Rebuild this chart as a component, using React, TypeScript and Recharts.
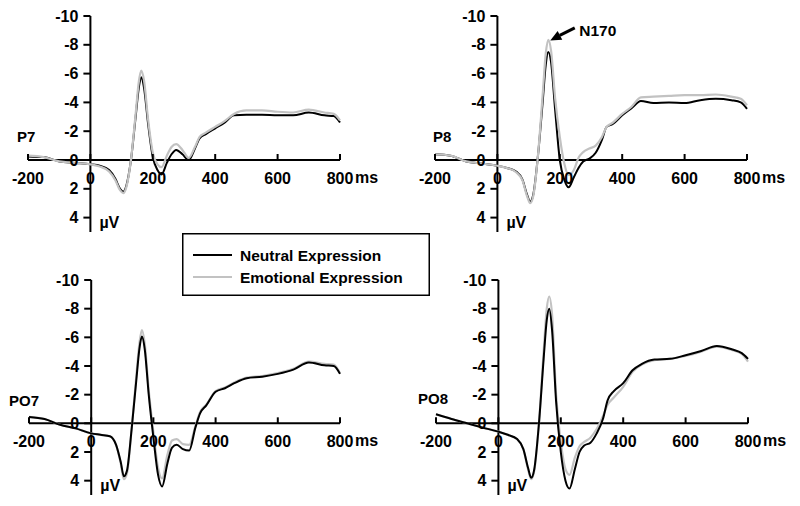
import { LineChart, Line, XAxis, YAxis, ReferenceLine, ReferenceDot, Legend } from 'recharts'

// time points (ms) shared by every panel
const timesMs = [-200, -150, -100, -50, 0, 30, 60, 80, 95, 105, 115, 130, 145, 155, 163, 172, 185, 200, 215, 228, 245, 260, 275, 295, 315, 335, 350, 370, 400, 430, 460, 500, 550, 600, 650, 700, 750, 780, 800]

const xTicks = [-200, 0, 200, 400, 600, 800]
const yTicks = [-10, -8, -6, -4, -2, 0, 2, 4]
const seriesNames = ['Neutral Expression', 'Emotional Expression']

// amplitudes in µV (negative is drawn upwards)
const p7Neutral = [-0.25, -0.2, 0.1, 0.2, 0.3, 0.4, 0.7, 1.3, 2.0, 2.2, 1.8, 0.0, -3.0, -5.0, -5.75, -5.0, -2.5, -0.2, 0.7, 1.0, 0.2, -0.4, -0.7, -0.4, 0.0, -0.8, -1.5, -1.8, -2.2, -2.6, -3.1, -3.15, -3.15, -3.1, -3.1, -3.3, -3.1, -3.05, -2.6]
const p7Emotional = [-0.3, -0.2, 0.1, 0.2, 0.3, 0.45, 0.8, 1.4, 2.1, 2.3, 1.9, 0.0, -3.2, -5.4, -6.2, -5.5, -2.8, -0.5, 0.3, 0.5, -0.3, -0.9, -1.1, -0.7, -0.15, -0.9, -1.6, -1.9, -2.3, -2.7, -3.2, -3.45, -3.45, -3.35, -3.3, -3.5, -3.3, -3.2, -2.75]

const p8Neutral = [-0.4, -0.3, 0.1, 0.25, 0.4, 0.55, 0.8, 1.35, 2.4, 2.9, 2.4, -0.3, -4.0, -6.6, -7.5, -6.8, -3.5, 0.0, 1.4, 1.9, 1.2, 0.55, 0.1, -0.1, -0.5, -1.4, -2.3, -2.5, -3.1, -3.6, -4.1, -3.95, -4.0, -3.95, -4.15, -4.25, -4.15, -4.0, -3.55]
const p8Emotional = [-0.4, -0.3, 0.1, 0.25, 0.4, 0.55, 0.85, 1.4, 2.5, 3.0, 2.5, -0.3, -4.5, -7.4, -8.35, -7.6, -4.3, -1.6, 0.3, 1.05, 0.7, -0.15, -0.55, -0.8, -1.0, -1.6, -2.3, -2.6, -3.2, -3.7, -4.35, -4.4, -4.45, -4.5, -4.5, -4.55, -4.4, -4.25, -3.8]

const po7Neutral = [-0.45, -0.3, 0.1, 0.35, 0.7, 0.8, 0.9, 1.5, 2.7, 3.7, 3.3, 0.4, -3.0, -5.2, -6.05, -5.2, -2.0, 1.0, 3.6, 4.4, 2.8, 1.7, 1.5, 1.8, 1.9, 0.3, -0.7, -1.25, -2.2, -2.45, -2.8, -3.15, -3.25, -3.45, -3.75, -4.25, -4.05, -4.0, -3.45]
const po7Emotional = [-0.45, -0.3, 0.1, 0.35, 0.7, 0.8, 0.9, 1.5, 2.8, 3.9, 3.5, 0.4, -3.3, -5.6, -6.5, -5.6, -2.3, 0.6, 3.1, 3.85, 2.2, 1.2, 1.1, 1.45, 1.5, 0.2, -0.8, -1.3, -2.25, -2.5, -2.85, -3.2, -3.3, -3.5, -3.8, -4.3, -4.15, -4.1, -3.5]

const po8Neutral = [-0.63, -0.3, 0.0, 0.3, 0.58, 0.8, 1.1, 1.8, 3.1, 3.8, 3.2, 0.0, -4.5, -7.2, -8.0, -6.5, -1.5, 2.0, 4.0, 4.55, 3.2, 2.0, 1.55, 1.35, 0.7, -0.3, -1.6, -2.25, -2.8, -3.7, -4.15, -4.45, -4.5, -4.75, -5.05, -5.4, -5.15, -4.9, -4.5]
const po8Emotional = [-0.63, -0.3, 0.0, 0.3, 0.58, 0.8, 1.1, 1.8, 3.2, 3.9, 3.3, 0.0, -5.0, -8.0, -8.85, -7.6, -2.0, 1.3, 3.2, 3.6, 2.4, 1.6, 1.3, 1.0, 0.4, -0.5, -1.3, -1.8, -2.55, -3.6, -4.1, -4.4, -4.5, -4.7, -5.0, -5.35, -5.1, -4.85, -4.3]

const FONT = '"Liberation Sans", Arial, sans-serif'
const NEUTRAL_COLOR = '#000000'
const EMOTIONAL_COLOR = '#c2c2c2'

const tickStyle = { fontFamily: FONT, fontWeight: 700, fontSize: 16, fill: '#000' }
const nameStyle = { ...tickStyle, fontSize: 15 }
const legendStyle = { ...tickStyle, fontSize: 15.5 }

function LegendBox({ payload }: any) {
  const items = [...(payload || [])].sort(
    (a: any, b: any) => seriesNames.indexOf(a.value) - seriesNames.indexOf(b.value)
  )
  return (
    <svg width={248} height={63} style={{ display: 'block' }}>
      <rect x={0.75} y={0.75} width={246.5} height={61.5} fill="#fff" stroke="#000" strokeWidth={1.5} />
      {items.map((item: any, i: number) => (
        <g key={item.value}>
          <line x1={11} x2={50} y1={22 + i * 22} y2={22 + i * 22} stroke={item.color} strokeWidth={2} />
          <text x={58} y={22 + i * 22} dominantBaseline="central" style={legendStyle}>{item.value}</text>
        </g>
      ))}
    </svg>
  )
}

interface PanelProps {
  name: string
  neutral: number[]
  emotional: number[]
  left: number
  top: number
  margin: { top: number; right: number; bottom: number; left: number }
  nameDx: number
  nameLevel: number
  greyOnTop?: boolean
  showLegend?: boolean
  showN170?: boolean
}

function ErpPanel({ name, neutral, emotional, left, top, margin, nameDx, nameLevel, greyOnTop, showLegend, showN170 }: PanelProps) {
  const data = timesMs.map((t, i) => ({ t, neutral: neutral[i], emotional: emotional[i] }))

  const neutralLine = (
    <Line
      key="neutral"
      type="monotone"
      dataKey="neutral"
      name={seriesNames[0]}
      stroke={NEUTRAL_COLOR}
      strokeWidth={2}
      dot={false}
      isAnimationActive={false}
    />
  )
  const emotionalLine = (
    <Line
      key="emotional"
      type="monotone"
      dataKey="emotional"
      name={seriesNames[1]}
      stroke={EMOTIONAL_COLOR}
      strokeWidth={2.2}
      dot={false}
      isAnimationActive={false}
    />
  )

  return (
    <div style={{ position: 'absolute', left, top }}>
      <LineChart width={400} height={253} data={data} margin={margin}>
        <XAxis type="number" dataKey="t" domain={[-200, 800]} hide />
        <YAxis type="number" domain={[-10, 5]} reversed hide />

        {yTicks.map((v) => (
          <ReferenceDot
            key={'y' + v}
            x={0}
            y={v}
            shape={(p: any) => (
              <g>
                <line x1={p.cx - 7} x2={p.cx} y1={p.cy} y2={p.cy} stroke="#000" strokeWidth={2} />
                <text x={p.cx - 12} y={p.cy} textAnchor="end" dominantBaseline="central" style={tickStyle}>{v}</text>
              </g>
            )}
          />
        ))}
        {xTicks.map((v) => (
          <ReferenceDot
            key={'x' + v}
            x={v}
            y={0}
            shape={(p: any) => (
              <g>
                <line x1={p.cx} x2={p.cx} y1={p.cy} y2={p.cy - 6} stroke="#000" strokeWidth={2} />
                <text x={p.cx} y={p.cy + 18} textAnchor="middle" dominantBaseline="central" style={tickStyle}>{v}</text>
                {v === 800 && (
                  <text x={p.cx + 15} y={p.cy + 17} dominantBaseline="central" style={tickStyle}>ms</text>
                )}
              </g>
            )}
          />
        ))}
        <ReferenceDot
          x={0}
          y={4}
          shape={(p: any) => (
            <text x={p.cx + 9} y={p.cy + 5} dominantBaseline="central" style={tickStyle}>µV</text>
          )}
        />
        <ReferenceDot
          x={-200}
          y={nameLevel}
          shape={(p: any) => (
            <text x={p.cx + nameDx} y={p.cy} dominantBaseline="central" style={nameStyle}>{name}</text>
          )}
        />

        <ReferenceLine segment={[{ x: -200, y: 0 }, { x: 800, y: 0 }]} stroke="#000" strokeWidth={2} />
        <ReferenceLine segment={[{ x: 0, y: -10 }, { x: 0, y: 5 }]} stroke="#000" strokeWidth={2} />

        {greyOnTop ? [neutralLine, emotionalLine] : [emotionalLine, neutralLine]}

        {showN170 && (
          <ReferenceDot
            x={163}
            y={-8.35}
            shape={(p: any) => (
              <g>
                <polygon
                  points={`${p.cx + 2},${p.cy + 0.7} ${p.cx + 14},${p.cy} ${p.cx + 9.4},${p.cy - 8.8}`}
                  fill="#000"
                />
                <line x1={p.cx + 11.5} y1={p.cy - 4.4} x2={p.cx + 26.5} y2={p.cy - 11.8} stroke="#000" strokeWidth={3} />
                <text x={p.cx + 31} y={p.cy - 9} dominantBaseline="central" style={legendStyle}>N170</text>
              </g>
            )}
          />
        )}

        {showLegend && (
          <Legend
            layout="vertical"
            align="center"
            verticalAlign="middle"
            wrapperStyle={{ left: 182, top: 233, width: 248, height: 63 }}
            content={(props: any) => <LegendBox payload={props.payload} />}
          />
        )}
      </LineChart>
    </div>
  )
}

export default function App() {
  return (
    <div style={{ position: 'absolute', left: 0, top: 0, width: 800, height: 506, background: '#fff' }}>
      <ErpPanel
        name="P8"
        neutral={p8Neutral}
        emotional={p8Emotional}
        left={400}
        top={0}
        margin={{ top: 16, right: 53, bottom: 21, left: 35 }}
        nameDx={-2}
        nameLevel={-1.6}
        greyOnTop
        showN170
      />
      <ErpPanel
        name="PO7"
        neutral={po7Neutral}
        emotional={po7Emotional}
        left={0}
        top={253}
        margin={{ top: 27, right: 60, bottom: 11, left: 29 }}
        nameDx={-20}
        nameLevel={-1.6}
      />
      <ErpPanel
        name="PO8"
        neutral={po8Neutral}
        emotional={po8Emotional}
        left={400}
        top={253}
        margin={{ top: 27, right: 52, bottom: 11, left: 36 }}
        nameDx={-18}
        nameLevel={-1.75}
      />
      <ErpPanel
        name="P7"
        neutral={p7Neutral}
        emotional={p7Emotional}
        left={0}
        top={0}
        margin={{ top: 16, right: 60, bottom: 21, left: 28 }}
        nameDx={-11}
        nameLevel={-1.6}
        greyOnTop
        showLegend
      />
    </div>
  )
}
